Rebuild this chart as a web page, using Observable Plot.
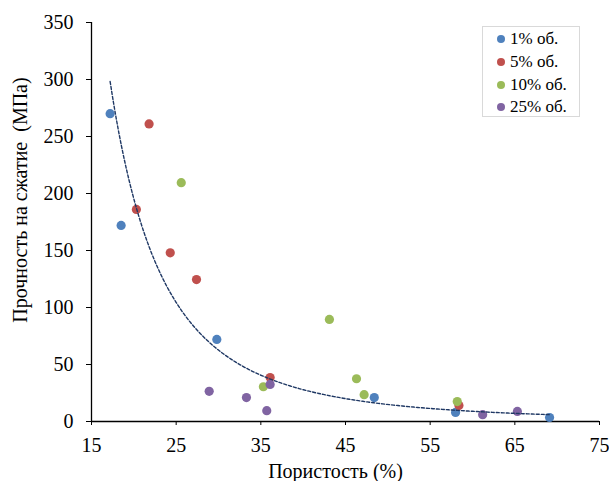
<!DOCTYPE html>
<html>
<head>
<meta charset="utf-8">
<script src="https://cdn.jsdelivr.net/npm/d3@7"></script>
<script src="https://cdn.jsdelivr.net/npm/@observablehq/plot@0.6"></script>
<style>
  html, body { margin: 0; padding: 0; background: white; }
  #wrap { position: relative; width: 609px; height: 481px; }
  #legend { position: absolute; left: 482px; top: 26px; width: 98px; height: 91px; border: 1px solid #d9d9d9; background: white; box-sizing: border-box;
    font-family: 'Liberation Serif', 'Times New Roman', serif; font-size: 17px; color: black; padding-top: 1px; }
  #legend .item { display: flex; align-items: center; height: 22.7px; padding-left: 14px; }
  #legend .sw { width: 8px; height: 8px; border-radius: 50%; margin-right: 5px; }
</style>
</head>
<body>
<div id="wrap"><div id="chart"></div><div id="legend"></div></div>
<script>
const seriesNames = ["1% об.", "5% об.", "10% об.", "25% об."];
const seriesColors = ["#4F81BD", "#C0504D", "#9BBB59", "#8064A2"];

const porosity1 = [17.2, 18.5, 29.8, 48.4, 58.0, 69.1];
const strength1 = [270, 172, 72, 21, 8, 3.5];
const porosity5 = [21.8, 20.3, 24.3, 27.4, 36.1, 58.4];
const strength5 = [261, 186, 148, 124.5, 38.5, 14];
const porosity10 = [25.6, 43.1, 46.3, 47.2, 35.3, 58.2];
const strength10 = [209.5, 89.5, 37.5, 23.5, 30.5, 17.5];
const porosity25 = [28.9, 33.3, 35.7, 36.1, 61.2, 65.3];
const strength25 = [26.5, 21, 9.5, 32.5, 6, 8.8];

// power trendline y = trendA * x^trendB
const trendA = 873800;
const trendB = -2.806;

const xTicks = [15, 25, 35, 45, 55, 65, 75];
const yTicks = [0, 50, 100, 150, 200, 250, 300, 350];
const xLabel = "Пористость (%)";
const yLabel = "Прочность на сжатие  (МПа)";

const xs = [porosity1, porosity5, porosity10, porosity25];
const ys = [strength1, strength5, strength10, strength25];
const data = [];
seriesNames.forEach((name, i) => xs[i].forEach((x, j) => data.push({series: name, x, y: ys[i][j]})));

const [xmin, xmax] = d3.extent(data, d => d.x);
const trend = d3.range(0, 201).map(k => { const x = xmin + (xmax - xmin) * k / 200; return {x, y: trendA * Math.pow(x, trendB)}; });

const font = "'Liberation Serif', 'Times New Roman', serif";
const chart = Plot.plot({
  width: 609, height: 481,
  marginLeft: 91, marginRight: 10, marginTop: 22, marginBottom: 60,
  style: {fontFamily: font, fontSize: "20px", color: "black", background: "white"},
  x: {domain: [15, 75]},
  y: {domain: [0, 350]},
  color: {domain: seriesNames, range: seriesColors},
  marks: [
    Plot.axisX({ticks: xTicks, tickSize: 4, tickPadding: 12, label: null, fontSize: 20}),
    Plot.axisY({ticks: yTicks, tickSize: 5, tickPadding: 13, label: null, fontSize: 20}),
    Plot.ruleX([15], {stroke: "black", strokeWidth: 1.3}),
    Plot.ruleY([0], {stroke: "black", strokeWidth: 1.3}),
    Plot.text([xLabel], {frameAnchor: "bottom", dx: -10, dy: 50, lineAnchor: "middle", fontSize: 20}),
    Plot.text([yLabel], {frameAnchor: "left", rotate: -90, dx: -71, dy: -22, textAnchor: "middle", lineAnchor: "middle", fontSize: 20}),
    Plot.dot(data, {x: "x", y: "y", fill: "series", r: 4.6}),
    Plot.line(trend, {x: "x", y: "y", stroke: "#1F3864", strokeWidth: 1.4, strokeDasharray: "3,2"})
  ]
});
document.getElementById("chart").appendChild(chart);

const legend = document.getElementById("legend");
seriesNames.forEach((name, i) => {
  const item = document.createElement("div");
  item.className = "item";
  item.innerHTML = `<span class="sw" style="background:${seriesColors[i]}"></span><span>${name}</span>`;
  legend.appendChild(item);
});
</script>
</body>
</html>
